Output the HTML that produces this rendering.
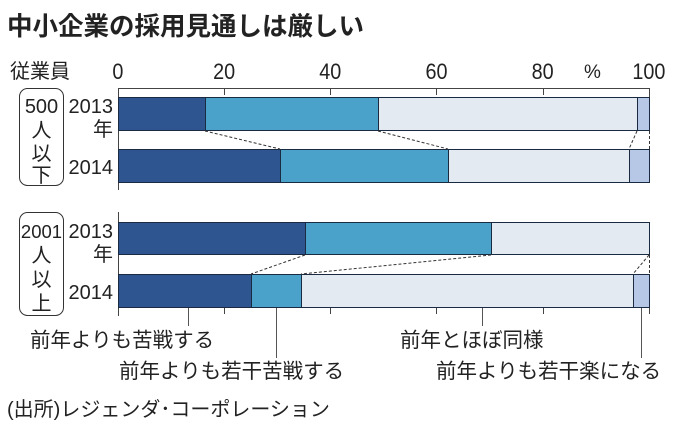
<!DOCTYPE html>
<html><head><meta charset="utf-8"><style>
html,body{margin:0;padding:0;background:#fff}
svg{display:block}
text{font-family:"Liberation Sans","Noto Sans CJK JP",sans-serif;fill:#222}
</style></head><body>
<svg width="680" height="424" viewBox="0 0 680 424" xmlns="http://www.w3.org/2000/svg">
<text x="7" y="35" font-size="25.5" font-weight="bold">中小企業の採用見通しは厳しい</text>
<text x="10" y="78" font-size="20">従業員</text>
<g font-size="22" text-anchor="middle" transform="scale(0.9,1)">
<text x="131" y="79">0</text><text x="249" y="79">20</text><text x="367" y="79">40</text><text x="485" y="79">60</text><text x="603" y="79">80</text><text x="721" y="79">100</text>
</g>
<text x="584" y="78" font-size="19">%</text>
<g stroke="#444" stroke-width="1" fill="none">
<path d="M118.5 190V88.5H649.5V97"/>
<path d="M224.5 88v7M330.5 88v7M436.5 88v7M543.5 88v7"/>
<path d="M118.5 212V316M224.5 307v7M330.5 307v7M436.5 307v7M543.5 307v7M649.5 307v7"/>
</g>
<g stroke="#1a2a40" stroke-width="1">
<rect x="118.5" y="97.5" width="87" height="33" fill="#2f5591"/>
<rect x="205.5" y="97.5" width="173" height="33" fill="#4aa1c9"/>
<rect x="378.5" y="97.5" width="259" height="33" fill="#e3eaf2"/>
<rect x="637.5" y="97.5" width="12" height="33" fill="#b7c8e6"/>
<rect x="118.5" y="149.5" width="162" height="33" fill="#2f5591"/>
<rect x="280.5" y="149.5" width="168" height="33" fill="#4aa1c9"/>
<rect x="448.5" y="149.5" width="181" height="33" fill="#e3eaf2"/>
<rect x="629.5" y="149.5" width="20" height="33" fill="#b7c8e6"/>
<rect x="118.5" y="222.5" width="187" height="32" fill="#2f5591"/>
<rect x="305.5" y="222.5" width="186" height="32" fill="#4aa1c9"/>
<rect x="491.5" y="222.5" width="158" height="32" fill="#e3eaf2"/>
<rect x="118.5" y="274.5" width="133" height="33" fill="#2f5591"/>
<rect x="251.5" y="274.5" width="50" height="33" fill="#4aa1c9"/>
<rect x="301.5" y="274.5" width="332" height="33" fill="#e3eaf2"/>
<rect x="633.5" y="274.5" width="16" height="33" fill="#b7c8e6"/>
</g>
<g stroke="#333" stroke-width="1" stroke-dasharray="3,2" fill="none">
<path d="M205 131L280 149M378 131L448 149M637 131L629 149M649.5 131V149"/>
<path d="M305 255L251 274M491 255L301 274M649 255L633 274M649.5 255V274"/>
</g>
<g stroke="#555" stroke-width="1">
<path d="M188.5 308V326M276.5 308V358M482.5 308V326M641.5 308V358"/>
</g>
<g font-size="20.5">
<text x="30" y="347">前年よりも苦戦する</text>
<text x="119" y="378">前年よりも若干苦戦する</text>
<text x="400" y="347">前年とほぼ同様</text>
<text x="436" y="378">前年よりも若干楽になる</text>
<text x="7" y="416" font-size="20">(出所)レジェンダ･コーポレーション</text>
</g>
<g fill="none" stroke="#333" stroke-width="1">
<rect x="19.5" y="88.5" width="44" height="97" rx="8"/>
<rect x="19.5" y="212.5" width="44" height="103" rx="8"/>
</g>
<g font-size="20" text-anchor="middle">
<text x="41.5" y="113">500</text>
<text x="41.5" y="137">人</text><text x="41.5" y="160">以</text><text x="41.5" y="182">下</text>
<text x="41.5" y="238" font-size="18.5">2001</text>
<text x="41.5" y="262">人</text><text x="41.5" y="286">以</text><text x="41.5" y="310">上</text>
</g>
<g font-size="20" text-anchor="end">
<text x="113" y="113">2013</text><text x="113" y="136">年</text>
<text x="113" y="174">2014</text>
<text x="113" y="238">2013</text><text x="113" y="261">年</text>
<text x="113" y="299">2014</text>
</g>
</svg>
</body></html>
